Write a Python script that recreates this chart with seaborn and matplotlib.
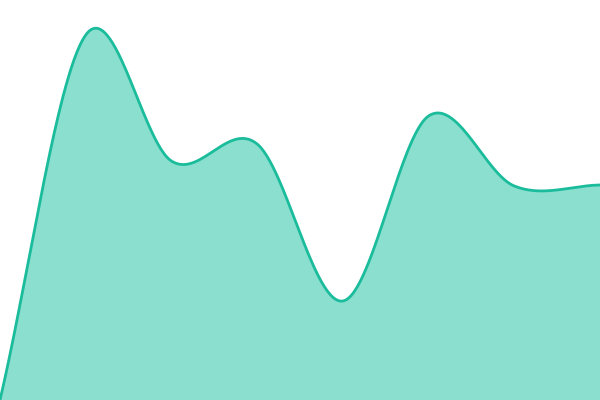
import numpy as np
import pandas as pd
import matplotlib
matplotlib.use("Agg")
import matplotlib.pyplot as plt
import seaborn as sns

# data
x_idx = [0, 1, 2, 3, 4, 5, 6, 7]
values = [0, 365, 239, 256, 99, 284, 214, 215]

LINE = "#1ABC9C"
FILL = "#8ADFCE"

def catmull_rom(xs, ys, n=60):
    xs = np.asarray(xs, float); ys = np.asarray(ys, float)
    m = np.zeros_like(ys)
    m[1:-1] = (ys[2:] - ys[:-2]) / (xs[2:] - xs[:-2])
    m[0] = (ys[1] - ys[0]) / (xs[1] - xs[0])
    m[-1] = (ys[-1] - ys[-2]) / (xs[-1] - xs[-2])
    ox, oy = [], []
    for i in range(len(xs) - 1):
        h = xs[i+1] - xs[i]
        t = np.linspace(0, 1, n, endpoint=False)
        h00 = 2*t**3 - 3*t**2 + 1
        h10 = t**3 - 2*t**2 + t
        h01 = -2*t**3 + 3*t**2
        h11 = t**3 - t**2
        ox.append(xs[i] + t*h)
        oy.append(h00*ys[i] + h10*h*m[i] + h01*ys[i+1] + h11*h*m[i+1])
    ox.append([xs[-1]]); oy.append([ys[-1]])
    return np.concatenate(ox), np.concatenate(oy)

sns.set_theme(style="white")
fig = plt.figure(figsize=(6, 4), dpi=100)
ax = fig.add_axes([0, 0, 1, 1])
sx, sy = catmull_rom(x_idx, values)
df = pd.DataFrame({"x": sx, "y": sy})
ax.fill_between(df["x"], df["y"], 0, color=FILL, linewidth=0)
sns.lineplot(data=df, x="x", y="y", ax=ax, color=LINE, linewidth=2.0, sort=False)
ax.set_xlim(0, 7)
ax.set_ylim(0, 400)
ax.axis("off")
fig.savefig("out.png", dpi=100)
